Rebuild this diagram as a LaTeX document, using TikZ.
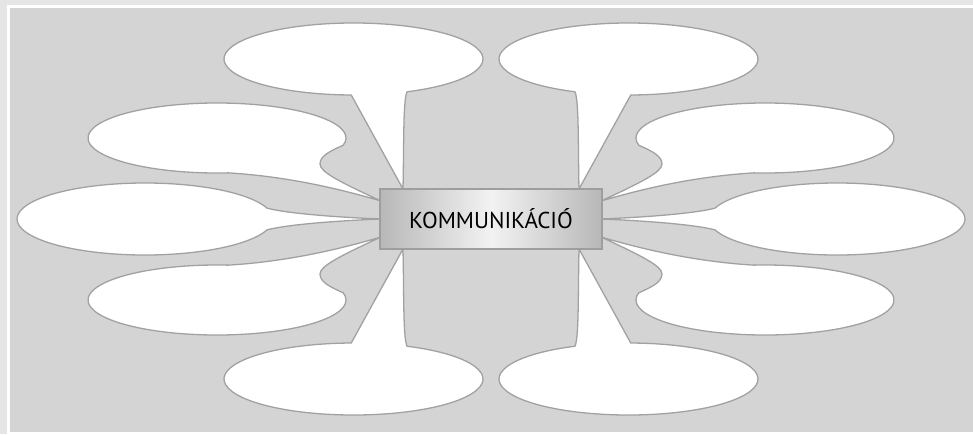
\documentclass[tikz,border=0pt]{standalone}
\usepackage{fontspec}
\newfontfamily\ptsans{PT Sans}
\usetikzlibrary{positioning}

\begin{document}
\begin{tikzpicture}[x=0.03cm, y=-0.03cm,
    bubble/.style={fill=white, draw=black!37, line width=1.1pt, line join=round},
    hub/.style={draw=black!38, line width=2pt, left color=black!28, right color=black!28,
        middle color=black!5, minimum width=6.66cm, minimum height=1.8cm, inner sep=0pt,
        font=\ptsans\fontsize{19.6}{22}\selectfont}]
    \useasboundingbox (0,0) rectangle (973,434);

    % frame and background
    \fill[black!10] (0,0) rectangle (973,434);
    \fill[white] (7,5) rectangle (973,434);
    \fill[black!17] (10,8) rectangle (973,432);

    \begin{scope}[shift={(491,219)}]
    % bubbles on the left, mirrored to the right (and top to bottom)
    \foreach \sx in {1,-1} {
        \foreach \sy in {1,-1} {
            \begin{scope}[xscale=\sx, yscale=\sy]
                % outer bubble
                \draw[bubble] (-137.5,-160) ++(65.6:129.5 and 36)
                    arc[start angle=65.6, end angle=-269, x radius=129.5, y radius=36]
                    -- (-88,-30) .. controls (-87,-75) and (-88,-118) .. cycle;
                % inner bubble
                \draw[bubble] (-274,-81) ++(12:129 and 35)
                    arc[start angle=12, end angle=-275, x radius=129, y radius=35]
                    .. controls (-211,-43) and (-161,-33) .. (-110,-18)
                    .. controls (-151,-37) and (-171,-47) .. (-171,-55)
                    .. controls (-171,-63) and (-161,-68) .. cycle;
            \end{scope}
        }
        % middle bubble
        \begin{scope}[xscale=\sx]
            \draw[bubble] (-346,0) ++(17.6:128 and 36)
                arc[start angle=17.6, end angle=342.4, x radius=128, y radius=36]
                .. controls (-206,-6) and (-160,-2) .. (-110,0)
                .. controls (-160,2) and (-206,6) .. cycle;
        \end{scope}
    }

    % centre box
    \node[hub] (kom) at (0,0) {KOMMUNIKÁCIÓ};
    \end{scope}
\end{tikzpicture}
\end{document}
